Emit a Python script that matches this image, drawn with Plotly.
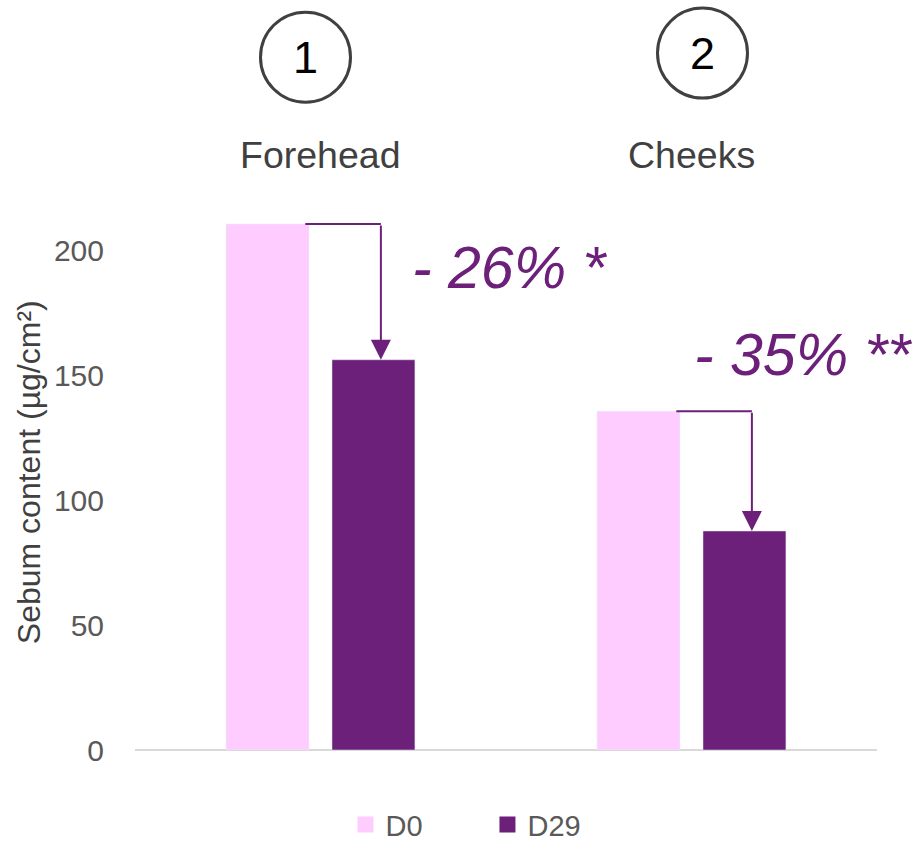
import plotly.graph_objects as go

# Sebum content by zone, before (D0) and after 29 days (D29)
zones = ["Forehead", "Cheeks"]
zone_numbers = ["1", "2"]
d0_values = [210.4, 135.5]
d29_values = [156.1, 87.6]
significance = ["*", "**"]

D0_COLOR = "#FFCCFF"
D29_COLOR = "#6C207A"
FONT = "Liberation Sans, Arial, sans-serif"

fig = go.Figure()
fig.add_trace(go.Bar(name="D0", x=zones, y=d0_values, marker_color=D0_COLOR, showlegend=False))
fig.add_trace(go.Bar(name="D29", x=zones, y=d29_values, marker_color=D29_COLOR, showlegend=False))

# legend entries with larger square swatches
for name, color in [("D0", D0_COLOR), ("D29", D29_COLOR)]:
    fig.add_trace(go.Scatter(name=name, x=[None], y=[None], mode="markers",
                             marker=dict(symbol="square", size=16, color=color)))

BARGAP = 0.429
GROUPGAP = 0.217
slot = (1 - BARGAP) / 2
d0_right = -slot / 2 + slot * (1 - GROUPGAP) / 2
arrow_dx = slot / 2 + 0.02

label_pos = [(0.24, 193), (1.0, 158)]
circle_px = [(-15, 1.205), (11, 1.212)]

for i, zone in enumerate(zones):
    pct = round((d29_values[i] - d0_values[i]) / d0_values[i] * 100)
    ax_x = i + arrow_dx
    # horizontal connector from D0 bar top
    fig.add_shape(type="line", xref="x", yref="y",
                  x0=i + d0_right - 0.01, x1=ax_x, y0=d0_values[i], y1=d0_values[i],
                  line=dict(color=D29_COLOR, width=2))
    # downward arrow to D29 bar top
    fig.add_annotation(x=ax_x, y=d29_values[i], ax=ax_x, ay=d0_values[i],
                       xref="x", yref="y", axref="x", ayref="y", text="",
                       showarrow=True, arrowhead=2, arrowsize=2, arrowwidth=2,
                       arrowcolor=D29_COLOR, standoff=0)
    # percentage change label
    lx, ly = label_pos[i]
    fig.add_annotation(x=lx, y=ly, xref="x", yref="y", xanchor="left", yanchor="middle",
                       text=f"<i>- {abs(pct)}% {significance[i]}</i>", showarrow=False,
                       font=dict(family=FONT, size=59, color=D29_COLOR))
    # zone name above the plot
    fig.add_annotation(x=i, y=1.035, xref="x", yref="paper", yanchor="middle",
                       text=zone, showarrow=False,
                       font=dict(family=FONT, size=37.5, color="#404040"))
    # numbered circle
    dx, cy = circle_px[i]
    fig.add_shape(type="circle", xref="x", yref="paper", xsizemode="pixel", ysizemode="pixel",
                  xanchor=i, yanchor=cy, x0=dx - 45, x1=dx + 45, y0=-45, y1=45,
                  line=dict(color="#404040", width=3))
    fig.add_annotation(x=i, y=cy, xref="x", yref="paper", xshift=dx, yanchor="middle",
                       text=zone_numbers[i], showarrow=False,
                       font=dict(family=FONT, size=45, color="#000000"))

# y-axis title
fig.add_annotation(x=-0.143, y=0.483, xref="paper", yref="paper", xanchor="center",
                   yanchor="middle", textangle=-90, showarrow=False,
                   text="Sebum content (µg/cm²)",
                   font=dict(family=FONT, size=32, color="#404040"))

fig.update_layout(
    width=917, height=842,
    margin=dict(l=135, r=40, t=175, b=92, autoexpand=False),
    paper_bgcolor="white", plot_bgcolor="white",
    barmode="group", bargap=BARGAP, bargroupgap=GROUPGAP,
    font=dict(family=FONT, color="#595959"),
    showlegend=True,
    legend=dict(orientation="h", x=0.475, xanchor="center", y=-0.13, yanchor="middle",
                font=dict(family=FONT, size=29, color="#595959"),
                entrywidth=97, entrywidthmode="pixels"),
    xaxis=dict(showticklabels=False, showline=False, showgrid=False, ticks="",
               range=[-0.5, 1.5]),
    yaxis=dict(range=[0, 230], tickvals=[0, 50, 100, 150, 200], showgrid=False,
               showline=False, zeroline=True, zerolinecolor="#D9D9D9", zerolinewidth=1.5,
               ticks="", ticklabelstandoff=30,
               tickfont=dict(family=FONT, size=30, color="#595959")),
)

fig.write_html("out.html")
